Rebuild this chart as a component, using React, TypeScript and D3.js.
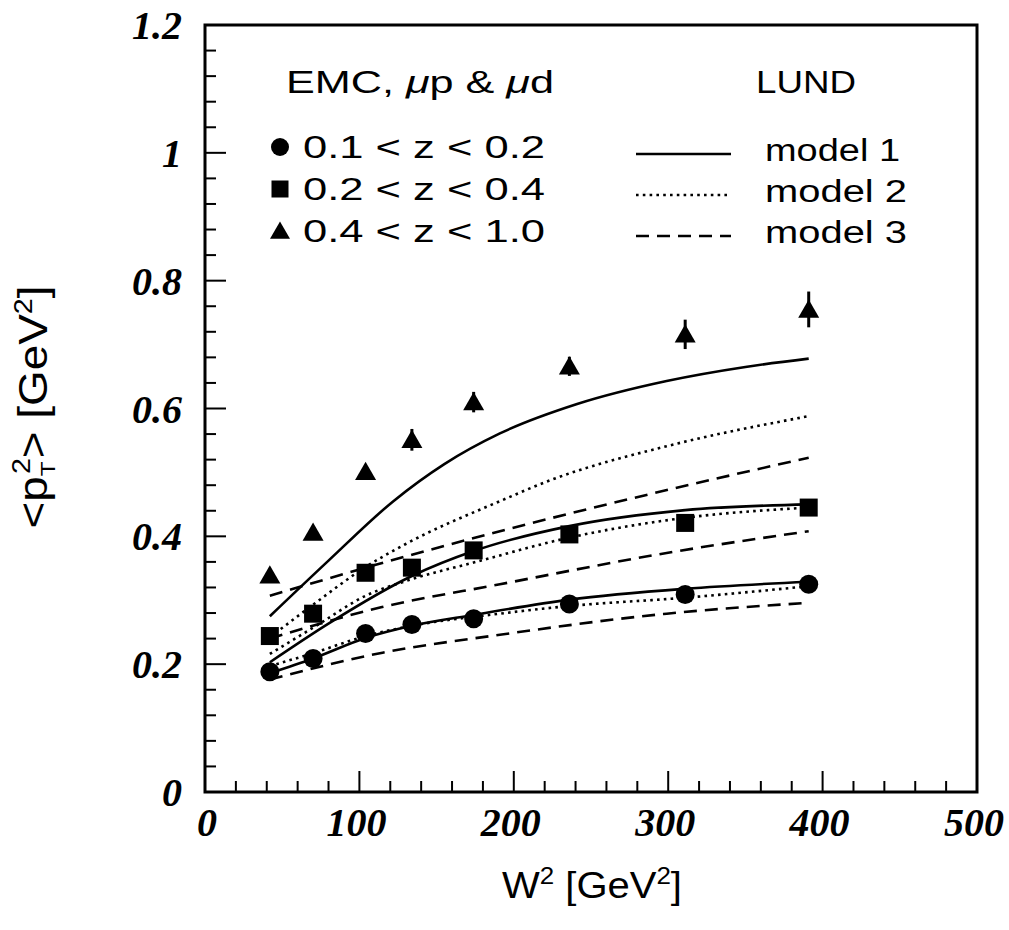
import React from "react";
import * as d3 from "d3";

// ---------- data ----------
const W2 = [42, 70, 104, 134, 174, 236, 311, 391];
const circleVals = [0.188, 0.209, 0.248, 0.262, 0.271, 0.294, 0.309, 0.325];
const squareVals = [0.244, 0.279, 0.343, 0.351, 0.378, 0.403, 0.421, 0.445];
const triangleVals = [0.339, 0.406, 0.501, 0.551, 0.61, 0.666, 0.716, 0.755];
const triangleErr = [0.006, 0.006, 0.008, 0.017, 0.016, 0.015, 0.023, 0.028];

// model curves (x, y)
const m1LowX = [42, 70, 104, 134, 174, 236, 311, 391];
const m1LowY = [0.186, 0.209, 0.241, 0.26, 0.277, 0.301, 0.318, 0.329];
const m1MidX = [42, 81, 134, 174, 236, 311, 391];
const m1MidY = [0.203, 0.265, 0.338, 0.377, 0.416, 0.441, 0.45];
const m1TopX = [42, 80, 122, 155, 191, 241, 299, 350, 391];
const m1TopY = [0.275, 0.362, 0.455, 0.513, 0.561, 0.607, 0.643, 0.665, 0.678];

const m2LowX = [42, 71, 104, 134, 191, 236, 311, 391];
const m2LowY = [0.197, 0.218, 0.244, 0.26, 0.279, 0.291, 0.304, 0.322];
const m2MidX = [42, 72, 104, 134, 174, 236, 311, 391];
const m2MidY = [0.216, 0.26, 0.307, 0.333, 0.359, 0.398, 0.429, 0.445];
const m2TopX = [42, 70, 104, 130, 191, 225, 299, 391];
const m2TopY = [0.242, 0.293, 0.352, 0.388, 0.455, 0.489, 0.541, 0.588];

const m3LowX = [42, 115, 191, 299, 391];
const m3LowY = [0.176, 0.218, 0.246, 0.279, 0.296];
const m3MidX = [42, 114, 191, 299, 391];
const m3MidY = [0.24, 0.289, 0.325, 0.374, 0.408];
const m3TopX = [42, 110, 191, 288, 391];
const m3TopY = [0.307, 0.355, 0.408, 0.466, 0.523];

const xTickLabels = ["0", "100", "200", "300", "400", "500"];
const yTickLabels = ["0", "0.2", "0.4", "0.6", "0.8", "1", "1.2"];
const dataLegend = ["0.1 < z < 0.2", "0.2 < z < 0.4", "0.4 < z < 1.0"];
const modelLegend = ["model 1", "model 2", "model 3"];

// ---------- layout ----------
const X0 = 205, X1 = 977, Y0 = 792, Y1 = 25;
const x = d3.scaleLinear().domain([0, 500]).range([X0, X1]);
const y = d3.scaleLinear().domain([0, 1.2]).range([Y0, Y1]);

const SOLID = "none";
const DOTTED = "2.6,4.2";
const DASHED = "13,8";

const line = d3
  .line<[number, number]>()
  .x((d) => x(d[0]))
  .y((d) => y(d[1]))
  .curve(d3.curveMonotoneX);

const zip = (xs: number[], ys: number[]) => xs.map((v, i) => [v, ys[i]] as [number, number]);

const curves = [
  { pts: zip(m1LowX, m1LowY), dash: SOLID },
  { pts: zip(m1MidX, m1MidY), dash: SOLID },
  { pts: zip(m1TopX, m1TopY), dash: SOLID },
  { pts: zip(m2LowX, m2LowY), dash: DOTTED },
  { pts: zip(m2MidX, m2MidY), dash: DOTTED },
  { pts: zip(m2TopX, m2TopY), dash: DOTTED },
  { pts: zip(m3LowX, m3LowY), dash: DASHED },
  { pts: zip(m3MidX, m3MidY), dash: DASHED },
  { pts: zip(m3TopX, m3TopY), dash: DASHED },
];

const sans = "'Liberation Sans', Arial, sans-serif";
const serif = "'Liberation Serif', 'Times New Roman', serif";

function Circle({ cx, cy, r = 9.5 }: { cx: number; cy: number; r?: number }) {
  return <circle cx={cx} cy={cy} r={r} fill="#000" />;
}
function Square({ cx, cy, s = 18 }: { cx: number; cy: number; s?: number }) {
  return <rect x={cx - s / 2} y={cy - s / 2} width={s} height={s} fill="#000" />;
}
function Triangle({ cx, cy, s = 21 }: { cx: number; cy: number; s?: number }) {
  const h = s * 0.87;
  return (
    <path
      d={`M${cx},${cy - h * 0.55} L${cx + s / 2},${cy + h * 0.45} L${cx - s / 2},${cy + h * 0.45} Z`}
      fill="#000"
    />
  );
}

export default function App() {
  const yMinor = d3.range(0, 1.2001, 0.04);
  const xMinor = d3.range(0, 500.01, 20);
  return (
    <svg
      width={1009}
      height={930}
      style={{ position: "absolute", left: 0, top: 0, background: "#fff" }}
    >
      <rect x={0} y={0} width={1009} height={930} fill="#fff" />

      {/* y ticks */}
      {yMinor.map((v, i) => {
        const major = i % 5 === 0;
        return (
          <line
            key={"yt" + i}
            x1={X0}
            x2={X0 + (major ? 21 : 11)}
            y1={y(v)}
            y2={y(v)}
            stroke="#000"
            strokeWidth={2}
          />
        );
      })}
      {/* x ticks */}
      {xMinor.map((v, i) => {
        const major = i % 5 === 0;
        return (
          <line
            key={"xt" + i}
            x1={x(v)}
            x2={x(v)}
            y1={Y0}
            y2={Y0 - (major ? 21 : 11)}
            stroke="#000"
            strokeWidth={2}
          />
        );
      })}

      {/* frame */}
      <rect x={X0} y={Y1} width={X1 - X0} height={Y0 - Y1} fill="none" stroke="#000" strokeWidth={3} />

      {/* tick labels */}
      {yTickLabels.map((t, i) => (
        <text
          key={"yl" + i}
          x={182}
          y={y(i * 0.2) + 14}
          textAnchor="end"
          fontFamily={serif}
          fontStyle="italic"
          fontWeight="bold"
          fontSize={40}
        >
          {t}
        </text>
      ))}
      {xTickLabels.map((t, i) => (
        <text
          key={"xl" + i}
          x={x(i * 100) + (i === 0 ? 2 : -3)}
          y={836}
          textAnchor="middle"
          fontFamily={serif}
          fontStyle="italic"
          fontWeight="bold"
          fontSize={40}
        >
          {t}
        </text>
      ))}

      {/* axis titles */}
      <text
        x={592}
        y={898}
        textAnchor="middle"
        fontFamily={sans}
        fontSize={37}
        textLength={180}
        lengthAdjust="spacingAndGlyphs"
      >
        W<tspan dy={-14} fontSize={24}>2</tspan>
        <tspan dy={14}> [GeV</tspan>
        <tspan dy={-14} fontSize={24}>2</tspan>
        <tspan dy={14}>]</tspan>
      </text>
      <text
        transform={`translate(47,407) rotate(-90)`}
        textAnchor="middle"
        fontFamily={sans}
        fontSize={40}
        textLength={243}
        lengthAdjust="spacingAndGlyphs"
      >
        &lt;p<tspan dy={8} fontSize={21}>T</tspan>
        <tspan dy={-25} dx={-11} fontSize={25}>2</tspan>
        <tspan dy={17}>&gt; [GeV</tspan>
        <tspan dy={-15} fontSize={25}>2</tspan>
        <tspan dy={15}>]</tspan>
      </text>

      {/* model curves */}
      {curves.map((c, i) => (
        <path
          key={"c" + i}
          d={line(c.pts) || ""}
          fill="none"
          stroke="#000"
          strokeWidth={2.6}
          strokeDasharray={c.dash === SOLID ? undefined : c.dash}
        />
      ))}

      {/* error bars */}
      {W2.map((w, i) => (
        <line
          key={"e" + i}
          x1={x(w)}
          x2={x(w)}
          y1={y(triangleVals[i] - triangleErr[i])}
          y2={y(triangleVals[i] + triangleErr[i])}
          stroke="#000"
          strokeWidth={3}
        />
      ))}

      {/* data points */}
      {W2.map((w, i) => (
        <Circle key={"pc" + i} cx={x(w)} cy={y(circleVals[i])} />
      ))}
      {W2.map((w, i) => (
        <Square key={"ps" + i} cx={x(w)} cy={y(squareVals[i])} />
      ))}
      {W2.map((w, i) => (
        <Triangle key={"pt" + i} cx={x(w)} cy={y(triangleVals[i])} />
      ))}

      {/* legend: data */}
      <text
        x={286}
        y={93}
        fontFamily={sans}
        fontSize={31}
        textLength={268}
        lengthAdjust="spacingAndGlyphs"
      >
        EMC, <tspan fontStyle="italic">μ</tspan>p &amp; <tspan fontStyle="italic">μ</tspan>d
      </text>
      {dataLegend.map((t, i) => {
        const cy = 147 + i * 42;
        return (
          <g key={"dl" + i}>
            {i === 0 && <Circle cx={280} cy={cy} r={9} />}
            {i === 1 && <Square cx={280} cy={cy} s={17} />}
            {i === 2 && <Triangle cx={280} cy={cy} s={20} />}
            <text
              x={303}
              y={cy + 11}
              fontFamily={sans}
              fontSize={31}
              textLength={242}
              lengthAdjust="spacingAndGlyphs"
            >
              {t}
            </text>
          </g>
        );
      })}

      {/* legend: models */}
      <text
        x={756}
        y={93}
        fontFamily={sans}
        fontSize={31}
        textLength={100}
        lengthAdjust="spacingAndGlyphs"
      >
        LUND
      </text>
      {modelLegend.map((t, i) => {
        const cy = 150 + i * 41;
        const dash = i === 0 ? undefined : i === 1 ? DOTTED : DASHED;
        return (
          <g key={"ml" + i}>
            <line
              x1={636}
              x2={731}
              y1={cy + 4}
              y2={cy + 4}
              stroke="#000"
              strokeWidth={2.6}
              strokeDasharray={dash}
            />
            <text
              x={765}
              y={cy + 11}
              fontFamily={sans}
              fontSize={31}
              textLength={i === 0 ? 135 : 142}
              lengthAdjust="spacingAndGlyphs"
            >
              {t}
            </text>
          </g>
        );
      })}
    </svg>
  );
}
